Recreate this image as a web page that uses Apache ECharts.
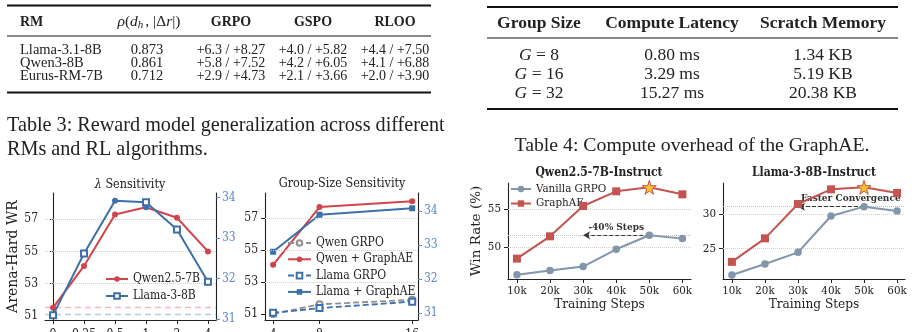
<!DOCTYPE html>
<html><head><meta charset="utf-8">
<script src="https://cdn.jsdelivr.net/npm/echarts@6/dist/echarts.min.js"></script>
<style>html,body{margin:0;padding:0;background:#fff}#c{width:915px;height:332px}</style>
</head><body><div id="c"></div>
<script>
// ---------------- data ----------------
// Table 3
const t3Header = ['RM', 'rho', 'GRPO', 'GSPO', 'RLOO'];
const t3RM = ['Llama-3.1-8B', 'Qwen3-8B', 'Eurus-RM-7B'];
const t3Rho = ['0.873', '0.861', '0.712'];
const t3GRPO = ['+6.3 / +8.27', '+5.8 / +7.52', '+2.9 / +4.73'];
const t3GSPO = ['+4.0 / +5.82', '+4.2 / +6.05', '+2.1 / +3.66'];
const t3RLOO = ['+4.4 / +7.50', '+4.1 / +6.88', '+2.0 / +3.90'];
const t3Caption = ['Table 3: Reward model generalization across different', 'RMs and RL algorithms.'];
// Table 4
const t4Header = ['Group Size', 'Compute Latency', 'Scratch Memory'];
const t4G = ['8', '16', '32'];
const t4Latency = ['0.80 ms', '3.29 ms', '15.27 ms'];
const t4Memory = ['1.34 KB', '5.19 KB', '20.38 KB'];
const t4Caption = 'Table 4: Compute overhead of the GraphAE.';
// lambda sensitivity
const lambdaCats = ['0', '0.25', '0.5', '1', '2', '4'];
const lambdaQwen = [51.5, 54.1, 57.3, 57.75, 57.1, 55.0];
const lambdaLlama = [31.1, 32.62, 33.92, 33.88, 33.21, 31.92];
const lambdaQwenBase = 51.5;
const lambdaLlamaBase = 31.12;
const wrTicks = [51, 53, 55, 57];
const wrGrid = [53, 55, 57];
const llamaWrTicks = [31, 32, 33, 34];
// group-size sensitivity
const groupSizes = [4, 8, 16];
const gsQwenGRPO = [51.0, 51.6, 51.88];
const gsQwenGraphAE = [54.07, 57.68, 58.05];
const gsLlamaGRPO = [31.0, 31.14, 31.33];
const gsLlamaGraphAE = [32.8, 33.89, 34.08];
// training-step curves
const trainSteps = [10, 20, 30, 40, 50, 60];
const qwenVanilla = [46.4, 46.96, 47.48, 49.74, 51.57, 51.13];
const qwenGraphAE = [48.52, 51.43, 55.39, 57.3, 57.83, 56.91];
const qwenTicks = [50, 55];
const llamaVanilla = [21.2, 22.8, 24.47, 29.71, 31.06, 30.43];
const llamaGraphAE = [23.1, 26.49, 31.44, 33.56, 33.85, 33.03];
const llamaTicks = [25, 30];
const arrowTarget = 30;
const qwenNote = '-40% Steps';
const llamaNote = 'Faster Convergence';

// ---------------- styles ----------------
const TIMES = "'Liberation Serif','Times New Roman',serif";
const SERIF = "'DejaVu Serif Condensed','DejaVu Serif',serif";
const SERIF_N = "'DejaVu Serif',serif";
const INK = '#222';
const RED = '#d0444c', BLUE = '#3d6fa9', RAX = '#5b87c6', GRAY = '#8f8f8f';
const RED2 = '#c4544f', SLATE = '#8195ab', GOLD = '#f7c325';
const STAR = 'path://M50,0 L61,35 L98,35 L68,57 L79,91 L50,70 L21,91 L32,57 L2,35 L39,35 Z';

const pairs = (xs, ys) => ys.map((y, i) => [xs[i], y]);
const argmax = a => a.indexOf(Math.max(...a));

// ---------------- tables (graphic) ----------------
const g = [];
function txt(x, y, text, o) {
  o = o || {};
  g.push({type: 'text', x: x, y: y, silent: true, style: Object.assign({
    text: text, fill: INK, fontFamily: TIMES, fontSize: 14,
    align: o.align || 'center', textAlign: o.align || 'center',
    verticalAlign: 'middle', textVerticalAlign: 'middle'
  }, o.style || {})});
}
function rule(x1, x2, y, w) {
  g.push({type: 'line', silent: true, shape: {x1: x1, y1: y, x2: x2, y2: y}, style: {stroke: '#111', lineWidth: w}});
}
// Table 3
const t3X = [20, 149, 231, 313, 395];
const t3RowY = [50, 63, 76];
rule(7, 431, 5.5, 2); rule(7, 431, 36, 1); rule(7, 431, 92.5, 2);
txt(t3X[0], 22, t3Header[0], {align: 'left', style: {fontWeight: 'bold'}});
g.push({type: 'text', x: t3X[1], y: 22, silent: true, style: {
  text: '{i|ρ}{n|(}{i|d}{s|h}{n|, |Δ}{i|r}{n||)}', fill: INK,
  align: 'center', textAlign: 'center', verticalAlign: 'middle', textVerticalAlign: 'middle',
  rich: {
    n: {fontFamily: TIMES, fontSize: 15.5, fill: INK, color: INK},
    i: {fontFamily: TIMES, fontSize: 15.5, fontStyle: 'italic', fill: INK, color: INK},
    s: {fontFamily: TIMES, fontSize: 11, fontStyle: 'italic', fill: INK, color: INK, padding: [7, 2, 0, 0]}
  }}});
for (let k = 2; k < 5; k++) txt(t3X[k], 22, t3Header[k], {style: {fontWeight: 'bold'}});
t3RM.forEach((v, r) => {
  txt(t3X[0], t3RowY[r], v, {align: 'left', style: {fontSize: 14.5}});
  txt(t3X[1] - 2, t3RowY[r], t3Rho[r], {style: {fontSize: 14.5}});
  txt(t3X[2], t3RowY[r], t3GRPO[r]);
  txt(t3X[3], t3RowY[r], t3GSPO[r]);
  txt(t3X[4], t3RowY[r], t3RLOO[r]);
});
txt(7, 126, t3Caption[0], {align: 'left', style: {fontSize: 20.2}});
txt(7, 150, t3Caption[1], {align: 'left', style: {fontSize: 20.2}});
// Table 4
const t4X = [539, 672, 823];
const t4RowY = [55, 74, 93];
rule(487, 898, 7, 2); rule(487, 898, 38, 1); rule(487, 898, 109, 2);
t4Header.forEach((h, k) => txt(t4X[k], 23, h, {style: {fontWeight: 'bold', fontSize: 17.5}}));
t4G.forEach((v, r) => {
  g.push({type: 'text', x: t4X[0], y: t4RowY[r], silent: true, style: {
    text: '{i|G} = ' + v, fill: INK, fontFamily: TIMES, fontSize: 17.5,
    align: 'center', textAlign: 'center', verticalAlign: 'middle', textVerticalAlign: 'middle',
    rich: {i: {fontFamily: TIMES, fontSize: 17.5, fontStyle: 'italic', fill: INK, color: INK}}}});
  txt(t4X[1], t4RowY[r], t4Latency[r], {style: {fontSize: 17.5}});
  txt(t4X[2], t4RowY[r], t4Memory[r], {style: {fontSize: 17.5}});
});
txt(692, 146, t4Caption, {style: {fontSize: 19.8}});

// chart titles
g.push({type: 'text', x: 130, y: 185, silent: true, style: {
  text: '{i|λ}{n| Sensitivity}', align: 'center', textAlign: 'center', verticalAlign: 'middle', textVerticalAlign: 'middle',
  rich: {i: {fontFamily: SERIF, fontSize: 12.5, fontStyle: 'italic', fill: INK, color: INK},
         n: {fontFamily: SERIF, fontSize: 12.5, fill: INK, color: INK}}}});
txt(342, 184, 'Group-Size Sensitivity', {style: {fontFamily: SERIF, fontSize: 12.5}});
txt(599, 173, 'Qwen2.5-7B-Instruct', {style: {fontFamily: SERIF, fontSize: 12, fontWeight: 'bold'}});
txt(814, 173, 'Llama-3-8B-Instruct', {style: {fontFamily: SERIF, fontSize: 12, fontWeight: 'bold'}});

// ---------------- axes ----------------
const axLine = {show: true, lineStyle: {color: INK, width: 1.1}};
function xAx(gi, min, max, vals, fmt, fs, margin, extra) {
  return Object.assign({
    gridIndex: gi, type: 'value', min: min, max: max,
    axisLine: axLine,
    axisTick: {show: true, length: 4, inside: false, customValues: vals, lineStyle: {color: INK}},
    axisLabel: {customValues: vals, formatter: fmt, fontFamily: SERIF, fontSize: fs, color: INK, margin: margin},
    splitLine: {show: false}
  }, extra || {});
}
function yAx(gi, min, max, vals, fs, extra) {
  return Object.assign({
    gridIndex: gi, type: 'value', min: min, max: max,
    axisLine: axLine,
    axisTick: {show: true, length: 4, customValues: vals, lineStyle: {color: INK}},
    axisLabel: {customValues: vals, fontFamily: SERIF, fontSize: fs, color: INK, margin: 7},
    splitLine: {show: false}
  }, extra || {});
}
const kFmt = v => v + 'k';

const xAxis = [
  xAx(0, -0.26, 5.26, lambdaCats.map((c, i) => i), v => lambdaCats[Math.round(v)], 12, 9),
  xAx(1, 3.3, 16.5, groupSizes, v => String(v), 12, 9),
  xAx(2, 7.3, 62.6, trainSteps, kFmt, 11.5, 6, {name: 'Training Steps', nameLocation: 'middle', nameGap: 17,
    nameTextStyle: {fontFamily: SERIF, fontSize: 13.5, color: INK}}),
  xAx(3, 7.3, 62.4, trainSteps, kFmt, 11.5, 6, {name: 'Training Steps', nameLocation: 'middle', nameGap: 17,
    nameTextStyle: {fontFamily: SERIF, fontSize: 13.5, color: INK}})
];
const rightStyle = {
  position: 'right',
  axisTick: {show: true, length: 4, customValues: llamaWrTicks, lineStyle: {color: RAX}},
  axisLabel: {customValues: llamaWrTicks, fontFamily: SERIF, fontSize: 12, color: RAX, margin: 6}
};
const yAxis = [
  yAx(0, 50.73, 58.64, wrTicks, 12, {name: 'Arena-Hard WR', nameLocation: 'middle', nameGap: 19,
    nameTextStyle: {fontFamily: SERIF_N, fontSize: 14, color: INK}}),
  yAx(0, 30.98, 34.11, llamaWrTicks, 12, rightStyle),
  yAx(1, 50.62, 58.56, wrTicks, 12),
  yAx(1, 30.79, 34.53, llamaWrTicks, 12, rightStyle),
  yAx(2, 45.86, 58.39, qwenTicks, 11.5, {name: 'Win Rate (%)', nameLocation: 'middle', nameGap: 17,
    nameTextStyle: {fontFamily: SERIF_N, fontSize: 13.5, color: INK}}),
  yAx(3, 20.63, 34.47, llamaTicks, 11.5)
];

const dotted = v => ({yAxis: v, lineStyle: {type: 'dotted', color: '#d0d0d0', width: 1}});

// ---------------- series ----------------
const lamX = lambdaCats.map((c, i) => i);
const lamPeakL = argmax(lambdaLlama);
const lamPeakQ = argmax(lambdaQwen);
const series = [
  {name: 'Qwen2.5-7B', type: 'line', xAxisIndex: 0, yAxisIndex: 0, z: 3,
   data: lambdaQwen.map((v, i) => i === lamPeakQ ? {value: [lamX[i], v], itemStyle: {color: BLUE}} : [lamX[i], v]),
   symbol: 'circle', symbolSize: 6, lineStyle: {color: RED, width: 2}, itemStyle: {color: RED},
   markLine: {silent: true, symbol: ['none', 'none'], label: {show: false}, z: 1,
     data: [{yAxis: lambdaQwenBase, lineStyle: {type: [6, 4], color: '#f3b9bb', width: 1.3}}].concat(wrGrid.map(dotted))}},
  {name: 'Llama-3-8B', type: 'line', xAxisIndex: 0, yAxisIndex: 1, z: 4,
   data: lambdaLlama.map((v, i) => i === lamPeakL ? {value: [lamX[i], v], symbol: 'circle', itemStyle: {color: BLUE}} : [lamX[i], v]),
   symbol: 'emptyRect', symbolSize: 6, lineStyle: {color: BLUE, width: 2}, itemStyle: {color: BLUE, borderWidth: 1.3},
   markLine: {silent: true, symbol: ['none', 'none'], label: {show: false}, z: 1,
     data: [{yAxis: lambdaLlamaBase, lineStyle: {type: [6, 4], color: '#bccbe6', width: 1.3}}]}},

  {name: 'Qwen GRPO', type: 'line', xAxisIndex: 1, yAxisIndex: 2, data: pairs(groupSizes, gsQwenGRPO),
   symbol: 'emptyCircle', symbolSize: 6, lineStyle: {color: GRAY, width: 1.8, type: [6, 3]}, itemStyle: {color: GRAY, borderWidth: 1.2},
   markLine: {silent: true, symbol: ['none', 'none'], label: {show: false}, data: wrGrid.map(dotted)}},
  {name: 'Qwen + GraphAE', type: 'line', xAxisIndex: 1, yAxisIndex: 2, data: pairs(groupSizes, gsQwenGraphAE),
   symbol: 'circle', symbolSize: 6, lineStyle: {color: RED, width: 2}, itemStyle: {color: RED}},
  {name: 'Llama GRPO', type: 'line', xAxisIndex: 1, yAxisIndex: 3, data: pairs(groupSizes, gsLlamaGRPO),
   symbol: 'emptyRect', symbolSize: 6, lineStyle: {color: BLUE, width: 1.8, type: [6, 3]}, itemStyle: {color: BLUE, borderWidth: 1.2}},
  {name: 'Llama + GraphAE', type: 'line', xAxisIndex: 1, yAxisIndex: 3, data: pairs(groupSizes, gsLlamaGraphAE),
   symbol: 'rect', symbolSize: 6, lineStyle: {color: BLUE, width: 2}, itemStyle: {color: BLUE}}
];

function instr(xi, yi, vanilla, graph, ticks, note, labelPos) {
  const pk = argmax(vanilla);
  const st = argmax(graph);
  return [
    {name: 'Vanilla GRPO', type: 'line', xAxisIndex: xi, yAxisIndex: yi, z: 3,
     data: pairs(trainSteps, vanilla), symbol: 'circle', symbolSize: 7.5,
     lineStyle: {color: SLATE, width: 2}, itemStyle: {color: SLATE},
     markLine: {silent: true, symbol: ['none', 'none'], label: {show: false}, z: 2,
       data: ticks.map(dotted).concat([
         {yAxis: vanilla[pk], lineStyle: {type: 'dotted', color: '#bdbdbd', width: 1}},
         [{coord: [trainSteps[pk], vanilla[pk]], symbol: 'none',
           lineStyle: {type: [4, 2], color: '#333', width: 1.2},
           label: {show: true, formatter: note, position: labelPos, distance: 3, color: '#333',
                   fontFamily: SERIF, fontWeight: 'bold', fontSize: 10}},
          {coord: [arrowTarget, vanilla[pk]], symbol: 'arrow', symbolSize: [6, 7]}]
       ])}},
    {name: 'GraphAE', type: 'line', xAxisIndex: xi, yAxisIndex: yi, z: 4,
     data: graph.map((v, i) => i === st ? {value: [trainSteps[i], v], symbol: STAR, symbolSize: 14,
        itemStyle: {color: GOLD, borderColor: RED2, borderWidth: 1}} : [trainSteps[i], v]),
     symbol: 'rect', symbolSize: 8, lineStyle: {color: RED2, width: 2}, itemStyle: {color: RED2}}
  ];
}
series.push(...instr(2, 4, qwenVanilla, qwenGraphAE, qwenTicks, qwenNote, 'middle'));
series.push(...instr(3, 5, llamaVanilla, llamaGraphAE, llamaTicks, llamaNote, 'insideEndTop'));

const legText = {fontFamily: SERIF, fontSize: 12, color: INK};
const option = {
  animation: false,
  backgroundColor: '#fff',
  grid: [
    {left: 45, top: 193, width: 171, height: 127, outerBoundsMode: 'none'},
    {left: 265, top: 193, width: 153, height: 127, outerBoundsMode: 'none'},
    {left: 508, top: 183, width: 183, height: 96, outerBoundsMode: 'none'},
    {left: 723, top: 183, width: 182, height: 96, outerBoundsMode: 'none'}
  ],
  legend: [
    {left: 100, top: 268, orient: 'vertical', itemWidth: 22, itemHeight: 7, itemGap: 5,
     data: ['Qwen2.5-7B', 'Llama-3-8B'], textStyle: legText, selectedMode: false},
    {left: 282, top: 232, orient: 'vertical', itemWidth: 23, itemHeight: 7, itemGap: 4.3,
     data: ['Qwen GRPO', 'Qwen + GraphAE', 'Llama GRPO', 'Llama + GraphAE'], textStyle: legText, selectedMode: false},
    {left: 505, top: 178, orient: 'vertical', itemWidth: 20, itemHeight: 8, itemGap: 2.5,
     data: ['Vanilla GRPO', 'GraphAE'], textStyle: {fontFamily: SERIF, fontSize: 11.5, color: INK}, selectedMode: false}
  ],
  xAxis: xAxis,
  yAxis: yAxis,
  series: series,
  graphic: {elements: g}
};
const chart = echarts.init(document.getElementById('c'), null, {renderer: 'canvas'});
chart.setOption(option);
</script></body></html>
